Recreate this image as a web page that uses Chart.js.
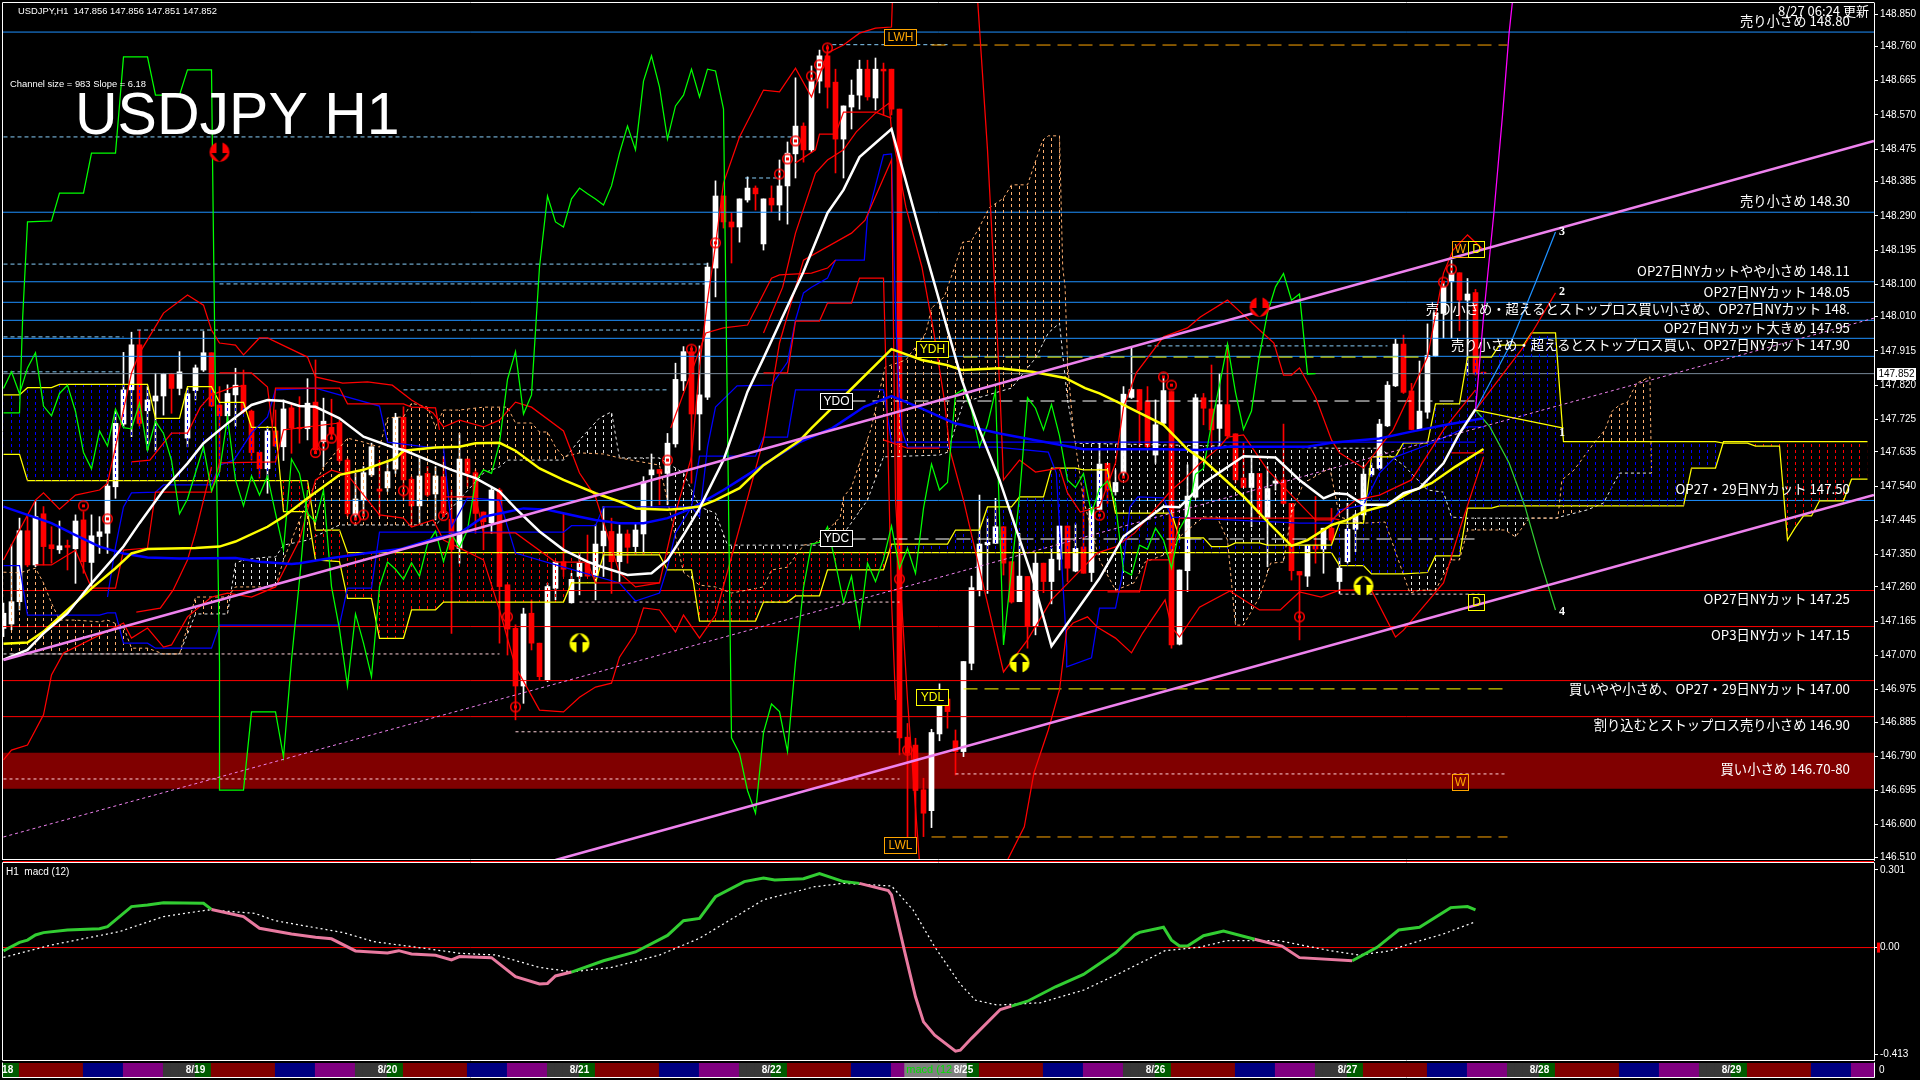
<!DOCTYPE html>
<html>
<head>
<meta charset="utf-8">
<title>USDJPY H1</title>
<script src="https://cdn.jsdelivr.net/npm/chart.js@4"></script>
<style>
  html, body { margin: 0; background: #000; width: 1920px; height: 1080px; overflow: hidden; }
  canvas { position: absolute; left: 0; }
</style>
</head>
<body>
<canvas id="mainChart" width="1920" height="862" style="top:0"></canvas>
<canvas id="macdChart" width="1920" height="200" style="top:862px"></canvas>
<canvas id="stripChart" width="1920" height="16" style="top:1062px"></canvas>
<script>
// candles, one row per 10 bars
const opens = [
147.145,147.157,147.219,147.416,147.321,147.463,147.377,147.363,147.375,147.366,
147.446,147.328,147.400,147.409,147.538,147.712,147.807,147.932,147.749,147.776,
147.790,147.851,147.811,147.673,147.805,147.862,147.910,147.765,147.735,147.793,
147.820,147.748,147.634,147.588,147.693,147.649,147.757,147.703,147.699,147.773,
147.663,147.703,147.716,147.612,147.460,147.500,147.571,147.532,147.535,147.587,
147.731,147.559,147.485,147.575,147.518,147.566,147.448,147.367,147.615,147.577,
147.468,147.438,147.529,147.266,147.145,146.985,147.187,147.104,147.002,147.256,
147.330,147.216,147.289,147.326,147.290,147.374,147.414,147.330,147.407,147.372,
147.407,147.571,147.586,147.575,147.657,147.832,147.913,147.740,147.787,148.145,
148.345,148.273,148.259,148.334,148.367,148.212,148.339,148.320,148.373,148.462,
148.539,148.473,148.664,148.734,148.661,148.503,148.592,148.625,148.697,148.617,
148.697,148.697,148.586,146.843,146.821,146.697,146.639,146.852,146.949,146.833,
146.803,147.048,147.250,147.377,147.381,147.427,147.330,147.219,147.289,147.150,
147.326,147.275,147.337,147.429,147.304,147.371,147.300,147.475,147.603,147.524,
147.577,147.786,147.808,147.774,147.626,147.714,147.802,147.101,147.305,147.509,
147.785,147.754,147.700,147.766,147.685,147.562,147.536,147.575,147.451,147.548,
147.557,147.492,147.303,147.290,147.374,147.365,147.423,147.275,147.330,147.420,
147.460,147.571,147.589,147.707,147.818,147.934,147.804,147.698,147.745,147.901,
148.019,148.107,148.132,148.056,148.077,147.856];
const highs = [
147.215,147.377,147.451,147.455,147.497,147.483,147.427,147.443,147.390,147.460,
147.469,147.460,147.455,147.557,147.747,147.911,147.967,147.973,147.816,147.853,
147.853,147.853,147.913,147.811,147.876,147.969,147.910,147.816,147.821,147.867,
147.862,147.751,147.634,147.705,147.751,147.779,147.770,147.788,147.838,147.890,
147.784,147.781,147.723,147.617,147.575,147.594,147.659,147.612,147.612,147.742,
147.760,147.566,147.622,147.594,147.594,147.622,147.529,147.686,147.615,147.585,
147.468,147.534,147.534,147.266,147.155,147.201,147.224,147.104,147.270,147.330,
147.464,147.298,147.353,147.404,147.432,147.483,147.451,147.432,147.418,147.437,
147.566,147.629,147.586,147.686,147.881,147.927,147.929,147.929,148.159,148.387,
148.345,148.298,148.337,148.398,148.373,148.337,148.373,148.445,148.495,148.673,
148.548,148.706,148.750,148.764,148.697,148.595,148.667,148.722,148.722,148.728,
148.714,148.697,148.586,146.881,146.840,146.729,146.865,146.991,146.949,146.863,
147.053,147.290,147.515,147.450,147.506,147.427,147.330,147.409,147.289,147.355,
147.326,147.367,147.429,147.429,147.435,147.538,147.483,147.659,147.603,147.585,
147.816,147.927,147.808,147.816,147.779,147.839,147.802,147.307,147.599,147.795,
147.797,147.876,147.853,147.931,147.685,147.659,147.622,147.575,147.594,147.566,
147.712,147.492,147.303,147.376,147.511,147.423,147.478,147.340,147.492,147.464,
147.598,147.603,147.725,147.830,147.947,147.959,147.825,147.887,147.990,148.021,
148.107,148.167,148.132,148.116,148.086,147.856];
const lows = [
147.122,147.141,147.196,147.316,147.316,147.321,147.326,147.353,147.307,147.270,
147.298,147.261,147.353,147.353,147.506,147.705,147.677,147.705,147.640,147.636,
147.737,147.742,147.793,147.649,147.779,147.858,147.760,147.580,147.723,147.705,
147.742,147.612,147.562,147.520,147.649,147.611,147.631,147.659,147.668,147.636,
147.594,147.673,147.603,147.455,147.446,147.455,147.566,147.455,147.525,147.575,
147.501,147.427,147.437,147.511,147.446,147.455,147.131,147.326,147.538,147.409,
147.363,147.409,147.104,147.071,146.891,146.937,147.085,147.002,146.997,147.224,
147.289,147.215,147.238,147.289,147.224,147.289,147.242,147.275,147.326,147.353,
147.353,147.483,147.488,147.488,147.648,147.805,147.548,147.640,147.780,148.065,
148.256,148.159,148.217,148.328,148.306,148.195,148.301,148.278,148.267,148.395,
148.439,148.467,148.631,148.589,148.409,148.395,148.531,148.586,148.611,148.584,
148.570,148.570,146.794,146.567,146.567,146.567,146.592,146.833,146.868,146.738,
146.789,147.030,147.235,147.242,147.381,147.293,147.215,147.219,147.090,147.127,
147.244,147.213,147.307,147.275,147.302,147.298,147.275,147.474,147.492,147.515,
147.566,147.783,147.649,147.640,147.603,147.710,147.090,147.099,147.247,147.506,
147.710,147.640,147.649,147.672,147.548,147.536,147.427,147.455,147.316,147.529,
147.488,147.279,147.113,147.261,147.326,147.298,147.381,147.242,147.326,147.358,
147.446,147.566,147.585,147.705,147.816,147.797,147.696,147.696,147.728,147.899,
147.950,147.950,147.971,147.848,147.848,147.851];
const closes = [
147.187,147.219,147.416,147.321,147.455,147.372,147.366,147.374,147.370,147.443,
147.330,147.402,147.413,147.540,147.714,147.807,147.932,147.714,147.779,147.790,
147.851,147.811,147.857,147.796,147.868,147.910,147.762,147.735,147.797,147.820,
147.747,147.633,147.588,147.693,147.651,147.754,147.702,147.699,147.770,147.640,
147.720,147.686,147.611,147.463,147.504,147.577,147.649,147.526,147.580,147.731,
147.557,147.485,147.568,147.515,147.568,147.464,147.364,147.615,147.575,147.464,
147.441,147.529,147.261,147.143,146.985,147.185,147.104,147.011,147.261,147.329,
147.309,147.281,147.327,147.290,147.379,147.415,147.330,147.407,147.370,147.418,
147.552,147.585,147.575,147.659,147.836,147.913,147.740,147.793,148.148,148.345,
148.273,148.259,148.337,148.367,148.351,148.337,148.320,148.373,148.464,148.539,
148.473,148.664,148.734,148.647,148.503,148.595,148.625,148.697,148.620,148.697,
148.692,148.586,146.841,146.798,146.695,146.632,146.856,146.935,146.914,146.803,
147.053,147.258,147.379,147.384,147.427,147.326,147.218,147.290,147.150,147.326,
147.275,147.337,147.429,147.312,147.367,147.298,147.478,147.601,147.529,147.550,
147.795,147.808,147.751,147.649,147.710,147.805,147.099,147.307,147.512,147.785,
147.756,147.696,147.766,147.679,147.557,147.536,147.575,147.464,147.533,147.554,
147.492,147.305,147.293,147.376,147.365,147.423,147.390,147.312,147.420,147.460,
147.573,147.589,147.712,147.820,147.934,147.800,147.697,147.748,147.903,148.021,
148.093,148.130,148.056,148.073,147.851,147.852];

// lagging line, starts at bar 0
const lagging = [
147.811,147.857,147.796,147.868,147.910,147.762,147.735,147.797,147.820,
147.747,147.633,147.588,147.693,147.651,147.754,147.702,147.699,147.770,147.640,
147.720,147.686,147.611,147.463,147.504,147.577,147.649,147.526,147.580,147.731,
147.557,147.485,147.568,147.515,147.568,147.464,147.364,147.615,147.575,147.464,
147.441,147.529,147.261,147.143,146.985,147.185,147.104,147.011,147.261,147.329,
147.309,147.281,147.327,147.290,147.379,147.415,147.330,147.407,147.370,147.418,
147.552,147.585,147.575,147.659,147.836,147.913,147.740,147.793,148.148,148.345,
148.273,148.259,148.337,148.367,148.351,148.337,148.320,148.373,148.464,148.539,
148.473,148.664,148.734,148.647,148.503,148.595,148.625,148.697,148.620,148.697,
148.692,148.586,146.841,146.798,146.695,146.632,146.856,146.935,146.914,146.803,
147.053,147.258,147.379,147.384,147.427,147.326,147.218,147.290,147.150,147.326,
147.275,147.337,147.429,147.312,147.367,147.298,147.478,147.601,147.529,147.550,
147.795,147.808,147.751,147.649,147.710,147.805,147.099,147.307,147.512,147.785,
147.756,147.696,147.766,147.679,147.557,147.536,147.575,147.464,147.533,147.554,
147.492,147.305,147.293,147.376,147.365,147.423,147.390,147.312,147.420,147.460,
147.573,147.589,147.712,147.820,147.934,147.800,147.697,147.748,147.903,148.021,
148.093,148.130,148.056,148.073,147.851,147.852];
const h4LagBars = [0,2,2.4,3,6,7,10,11,14,15,18,19,22,23,26,26.2,26.5,27,27,30,31,34,35,36,37,38];
const h4LagPrices = [147.743,147.743,148.009,148.273,148.276,148.353,148.353,148.464,148.464,148.731,148.731,148.625,148.625,148.695,148.695,148.314,147.779,147.049,146.696,146.696,146.913,146.913,146.788,147.057,147.279,147.529];

// moving averages
const whiteMaBars = [0,3,5,8,11,15,17,20,23,25,28,31,33,35,37,39,42,45,49,50,56,59,62,64,67,70,73,75,78,81,83,85,87,90,93,95,97.2,100,103,105,107,109,111,115.3,119.8,122,124.5,128.6,131,135.7,137,140,145,147,150,155,159,162,165,166.5,168,170,173,175,177,180,182,184];
const whiteMaPrices = [147.058,147.085,147.131,147.187,147.270,147.372,147.437,147.529,147.603,147.659,147.714,147.765,147.779,147.776,147.762,147.760,147.728,147.677,147.645,147.640,147.585,147.562,147.525,147.478,147.414,147.363,147.330,147.314,147.293,147.298,147.335,147.404,147.478,147.612,147.802,147.895,148.001,148.135,148.298,148.362,148.453,148.492,148.531,148.185,147.834,147.696,147.557,147.288,147.096,147.243,147.284,147.400,147.483,147.481,147.548,147.623,147.619,147.557,147.506,147.520,147.517,147.488,147.488,147.520,147.534,147.603,147.686,147.753];
const yellowMaBars = [0,3,5,8,11,14,16,18,24,27,29,33,35,38,42,45,49,50,54,57,59,62,64,67,70,74,77,79,83,85,87,89,92,95,99.6,101,105.6,111,114.8,117.9,119.8,124.5,128.6,132.7,135.2,137,140,145,148,150,155,158,161,163,166,168,170,173,176,178.5,181.5,185];
const yellowMaPrices = [147.102,147.106,147.136,147.196,147.256,147.312,147.353,147.365,147.368,147.372,147.386,147.427,147.455,147.506,147.571,147.585,147.617,147.638,147.647,147.649,147.659,147.660,147.638,147.589,147.557,147.520,147.497,147.478,147.474,147.478,147.483,147.501,147.534,147.598,147.668,147.701,147.801,147.920,147.890,147.876,147.862,147.867,147.857,147.840,147.812,147.797,147.765,147.710,147.642,147.612,147.511,147.441,147.374,147.390,147.432,147.446,147.469,147.488,147.525,147.548,147.594,147.643];
const blueMaBars = [0,3,6,9,12,15,18,22,29,32,36,37,40,45,49.6,54,57,60,62,65,68,72,74,77,80,83,86,90,93,99.6,103.6,107.6,111,114.3,118.8,124.5,130,135,145,149.6,153,163,166,172,176,180,185];
const blueMaPrices = [147.483,147.460,147.437,147.404,147.372,147.353,147.342,147.339,147.340,147.330,147.324,147.326,147.337,147.353,147.365,147.395,147.409,147.455,147.464,147.478,147.474,147.455,147.446,147.437,147.437,147.451,147.478,147.529,147.571,147.663,147.701,147.760,147.790,147.760,147.715,147.686,147.663,147.642,147.642,147.640,147.649,147.649,147.660,147.672,147.691,147.709,147.728];

// bands
const upperBandBars = [0,4,5,7,9,12,13,14,16,17,20,23,25,26,27,29,30,32,33,38,39,42.4,45.5,48.6,51,53.7,55,57,60,62,64,66,70,72,74,77,79,82,84,86,87,88,89,90,92,95,97,99,101,103,105,107,109,111,111.2,121.6,123,124.2,124.6,125,127,129,132,133,134.6,137,139,140,141.6,145,148,149.6,153,155,157,158.8,160,161,162,164,166,167,170,172,173.7,178,180,181.2,183,185];
const upperBandPrices = [147.335,147.501,147.521,147.476,147.515,147.529,147.548,147.648,147.854,147.909,148.020,148.070,148.042,147.973,147.937,147.931,147.904,147.951,147.951,147.898,147.843,147.826,147.829,147.820,147.779,147.743,147.704,147.723,147.704,147.723,147.773,147.759,147.693,147.576,147.510,147.299,147.260,147.271,147.465,147.621,147.870,148.056,148.209,148.381,148.509,148.639,148.634,148.700,148.620,148.742,148.764,148.797,148.811,148.814,148.945,148.945,148.473,147.965,147.779,147.557,147.612,147.579,147.590,147.521,147.468,147.482,147.604,147.759,147.854,147.954,147.979,148.009,148.056,148.015,147.973,147.937,147.848,147.848,147.868,147.787,147.668,147.632,147.590,147.648,147.696,147.898,148.131,148.195,148.237,148.195];
const lowerBandBars = [0,1,3,5,6,7.5,9,15,16,18,20,21,23,26,28,31,34,37,39,41,43,47,50,51,53.7,55,60,62,64,67,70,72,74,76,77,79,80,82,84,85,87,89,91,95,97,100,106,107.7,111,111.5,113,114.5,118,122,125.5,127.6,128.8,130.6,132,132.9,133.7,135.5,136.7,139,141,142.4,145.2,146,147,149.5,153.3,157,159.6,162,164.7,167,171,174,175,180,182,185];
const lowerBandPrices = [146.780,146.807,146.821,146.905,147.016,147.077,147.093,147.160,147.118,147.146,147.093,147.099,147.177,147.232,147.243,147.232,147.260,147.390,147.557,147.584,147.571,147.460,147.451,147.426,147.446,147.390,147.335,147.196,147.038,146.918,146.913,146.954,146.982,146.993,147.065,147.132,147.202,147.196,147.135,147.182,147.118,147.182,147.343,147.668,147.937,148.167,148.242,148.278,148.445,147.501,146.946,146.497,146.114,146.114,146.502,146.594,146.744,146.863,146.974,147.140,147.160,147.177,147.149,147.118,147.077,147.132,147.224,147.149,147.121,147.204,147.249,147.196,147.196,147.246,147.232,147.251,147.251,147.121,147.140,147.271,147.418,147.621];
const midRedBars = [95,97.4,99,101.5,103,105,106.6,109,110.7,111,112.8,114.8,116.3,117.6,118.3,120,125,128,131,135,136.7,139,141.4,146,147.5,149.6,152,153,155,158,161,164,166,169,172,176,180,184];
const midRedPrices = [147.965,148.092,148.242,148.409,148.445,148.473,148.523,148.575,148.603,148.528,148.314,148.148,147.965,147.779,147.640,147.501,147.024,147.113,147.224,147.315,147.354,147.371,147.410,147.529,147.557,147.604,147.648,147.676,147.682,147.585,147.515,147.446,147.446,147.501,147.515,147.557,147.696,147.807];
const earlyRedBars = [16.6,19.6,21.2,23,24,25.4,26];
const earlyRedPrices = [147.190,147.201,147.251,147.335,147.410,147.537,147.593];
const earlyRed2Bars = [16,18.3,21,23,24.6,26,28.8,30];
const earlyRed2Prices = [147.607,147.612,147.687,147.687,147.759,147.793,147.815,147.818];

// thin stepped lines
const redStepA = { bars: [4,6,9,11,14,15,18,19,26,27,34,35,42], prices: [147.321,147.321,147.362,147.257,147.257,147.362,147.368,147.523,147.523,147.604,147.607,147.696,147.715] };
const redStepB = { bars: [27,31,33,33.6,34,42,43,50,51,54,54.5], prices: [147.854,147.854,147.815,147.704,147.812,147.812,147.768,147.768,147.759,147.757,147.696] };
const redStepC = { bars: [95,98,99,102,103,106,107,110,110.5,111,111.5], prices: [147.854,147.854,147.998,147.998,148.048,148.048,148.117,148.117,147.701,147.224,146.946] };
const redStepD = { bars: [83.4,87.8,90,93,96,97,101,103,104], prices: [147.701,147.965,147.979,147.987,148.117,148.126,148.131,148.145,148.167] };
const redStepE = { bars: [99,101.5,102,104,105,109,111], prices: [148.437,148.473,148.517,148.517,148.578,148.578,148.561] };
const redStepF = { bars: [138,142,143,146,147,166,167], prices: [147.246,147.246,147.335,147.335,147.451,147.451,147.446] };
const redStepG = { bars: [55,59,60,64,69,73,74,82], prices: [147.510,147.510,147.410,147.410,147.329,147.329,147.271,147.271] };
const redStepH = { bars: [110,113,117], prices: [147.668,147.645,147.645] };
const redStepI = { bars: [181,185], prices: [147.632,147.632] };
const blueStepA = {
  bars: [0,2,3,12,13,14,15,18,19,26,27,42,43,46,47,70,71,74,75,86,87,94,95,98,99,110,111,184],
  prices: [147.319,147.319,147.182,147.182,147.188,147.188,147.104,147.104,147.090,147.090,147.154,147.154,147.257,147.257,147.412,147.412,147.430,147.430,147.482,147.482,147.623,147.623,147.676,147.676,147.807,147.807,147.662,147.662]
};
const blueStepB = {
  bars: [13,14,15,16,19,20,26,27,28.8,31,33,34,39,47,48,53,55,55.3,56,58,62,64,70,77,79,82,83,84,86,87,88,89,91.7,96,98,99,100,101,103,104,107.6,108,109.5,110,111,111.3,111.6,112,112.2,113,124.2,130.6,131.6,132.9,132.9,136,137,139,139.8,140.8,141.8,145,146,162,166,167,170,172,174,178,183,185],
  prices: [147.232,147.371,147.482,147.521,147.523,147.543,147.543,147.598,147.612,147.687,147.732,147.807,147.812,147.762,147.662,147.648,147.648,147.576,147.426,147.507,147.501,147.354,147.315,147.271,147.221,147.243,147.315,147.410,147.482,147.454,147.648,147.759,147.818,147.820,147.884,148.001,148.076,148.092,148.117,148.167,148.167,148.287,148.417,148.459,148.462,148.187,147.965,147.779,147.701,147.648,147.648,147.634,147.576,147.093,147.038,147.063,147.201,147.201,147.288,147.482,147.510,147.507,147.454,147.437,147.437,147.474,147.487,147.576,147.621,147.654,147.704,147.704]
};

// slow cloud (H4), edges A and B
const slowABars = [0,2,3,6,7,18,19,22,23,26,27,30,31,34,35,38,39,42,43,46,47,50,51,54,55,70,71,74,75,82,83,86,87,94,95,98,99,102,103,110,111,118,119,122,123,126,127,130,131,134,135,138,139,146,147,150,151,153,154,157,158,166,167,170,171,174,175,178,179,182,183,186,187,190,191,194,195,214,215,218,219,222,223,224,225,226,227,230,231,233];
const slowAPrices = [147.793,147.793,147.813,147.813,147.822,147.822,147.728,147.728,147.816,147.816,147.772,147.772,147.703,147.703,147.469,147.469,147.335,147.330,147.228,147.228,147.117,147.117,147.196,147.196,147.218,147.218,147.271,147.271,147.349,147.349,147.307,147.307,147.165,147.165,147.218,147.218,147.235,147.235,147.307,147.307,147.379,147.379,147.418,147.418,147.482,147.482,147.510,147.510,147.590,147.590,147.585,147.585,147.465,147.465,147.396,147.396,147.372,147.372,147.382,147.382,147.376,147.376,147.437,147.437,147.621,147.621,147.660,147.660,147.768,147.768,147.898,147.898,147.931,147.931,147.965,147.965,147.663,147.663,147.659,147.659,147.651,147.651,147.390,147.426,147.457,147.457,147.499,147.499,147.559,147.559];
const slowBBars = [0,2,3,38,39,42,43,166,167,170,171,175,178,179,182,183,186,187,210,211,214,215,233];
const slowBPrices = [147.628,147.628,147.555,147.555,147.418,147.418,147.355,147.355,147.319,147.319,147.296,147.296,147.300,147.346,147.346,147.479,147.479,147.485,147.485,147.590,147.590,147.663,147.663];

// fast cloud (H1), edges A and B
const fastABars = [0,2,4,5,6,7,9,12,13,15,16,18,20,22,23,24,28,29,34,35,36,38,40,43,45,47,48,50,51,53,54,55,57,60,63,64,66,67,68,69,70,72,75,77,82,85,87,89,91,95,96,98,100,101.5,104.6,105,106,108.4,110.2,112.8,115.3,116,117.6,118.9,119.9,121,122,123.2,125,126,128,129.9,130.6,132,132.4,132.7,133,133.7,135,137,139,141.3,142.7,146,147,150,151.7,153,154,155,157,158.4,160,161,162.5,165.8,167,170,172.7,175.8,177,179,181,182,183,187.7,189,190.7,194.3,194.8,196.3,198.9,200.2,201,202,203,203.5,204.2,205.8,206];
const fastAPrices = [147.301,147.299,147.312,147.271,147.215,147.168,147.168,147.163,147.168,147.149,147.090,147.090,147.074,147.074,147.149,147.232,147.232,147.260,147.260,147.335,147.390,147.501,147.593,147.673,147.662,147.648,147.729,147.732,147.770,147.759,147.704,147.751,147.751,147.759,147.759,147.715,147.715,147.690,147.690,147.648,147.621,147.632,147.629,147.618,147.598,147.301,147.265,147.260,147.243,147.260,147.307,147.315,147.376,147.382,147.454,147.510,147.537,147.696,147.870,147.890,147.965,148.034,148.065,148.148,148.217,148.220,148.259,148.312,148.339,148.376,148.376,148.500,148.512,148.512,148.148,148.092,147.884,147.701,147.501,147.335,147.251,147.271,147.329,147.357,147.399,147.454,147.454,147.390,147.154,147.154,147.232,147.326,147.329,147.465,147.548,147.590,147.454,147.437,147.440,147.243,147.251,147.251,147.335,147.335,147.418,147.418,147.399,147.451,147.451,147.557,147.584,147.662,147.696,147.746,147.765,147.773,147.798,147.826,147.843,147.576];
const fastBBars = [0,22,24,28,29,30,33,34,35,38,42,50,54,55,60,62,63,70,72,74.5,76,77,82,85,87,89,90.5,101,104,108,110,117,118,120,126,129,130.6,132,133,134,166,172,175,178,180,181,183,190,194,198,200,202,206];
const fastBPrices = [147.074,147.074,147.185,147.185,147.326,147.335,147.343,147.343,147.376,147.390,147.432,147.432,147.432,147.454,147.576,147.593,147.612,147.612,147.668,147.729,147.746,147.618,147.618,147.576,147.482,147.465,147.376,147.376,147.376,147.501,147.621,147.626,147.634,147.773,147.812,147.895,147.965,147.992,147.779,147.659,147.645,147.645,147.598,147.529,147.523,147.454,147.451,147.451,147.451,147.474,147.493,147.576,147.576];

// projection fan from bar 184
const fanMagentaBars = [184,185,186.3,187.4,188.2,188.6];
const fanMagentaPrices = [147.751,148.009,148.298,148.575,148.797,148.881];
const fanBlueBars = [184,188.2,191.5,194];
const fanBluePrices = [147.751,147.926,148.104,148.245];
const fanRedBars = [184,190,194];
const fanRedPrices = [147.751,147.926,148.076];
const fanYellowBars = [184,195];
const fanYellowPrices = [147.751,147.701];
const fanGreenBars = [184,185.8,188.2,190.2,192.2,194];
const fanGreenPrices = [147.751,147.704,147.604,147.482,147.326,147.196];
const waveLabels = ['1','2','3','4'];
const waveBars = [194.8,194.8,194.8,194.8];
const wavePrices = [147.687,148.079,148.245,147.190];

// channel
const channelUpperBars = [0,233.8];
const channelUpperPrices = [147.057,148.498];
const channelLowerBars = [69,233.8];
const channelLowerPrices = [146.502,147.515];
const channelMidBars = [0,233.8];
const channelMidPrices = [146.566,148.006];

// price levels
const blueLevels = [148.80,148.30,148.107,148.05,148.00,147.95,147.90,147.50];
const redLevels = [147.25,147.15,147.00,146.90];
const lastPrice = 147.852;
const zoneTop = 146.80;
const zoneBottom = 146.70;

// dashed level segments: price, from bar, to bar
const paleBlueSegments = [[148.509,0,99],[148.156,0,88],[148.101,27,87.7],[147.973,16.7,87],[147.954,0,15],[147.857,0,15],[147.807,50,83],[148.395,92.7,97],[148.765,103.6,118],[147.929,143,173]];
const palePinkSegments = [[147.074,1,62],[146.727,0,112],[147.218,72,112],[146.858,64,112],[146.741,119,188],[147.240,167,184.5]];
const whiteSegments = [[147.776,106,184.5],[147.393,106,184.5]];
const yellowSegments = [[147.898,120,177],[146.977,120,188]];
const orangeSegments = [[148.764,116,188],[146.566,116,188]];

// text on the chart
const noteTexts = ['売り小さめ 148.80','売り小さめ 148.30','OP27日NYカットやや小さめ 148.11','OP27日NYカット 148.05','売り小さめ・超えるとストップロス買い小さめ、OP27日NYカット 148.','OP27日NYカット大きめ 147.95','売り小さめ・超えるとストップロス買い、OP27日NYカット 147.90','OP27・29日NYカット 147.50','OP27日NYカット 147.25','OP3日NYカット 147.15','買いやや小さめ、OP27・29日NYカット 147.00','割り込むとストップロス売り小さめ 146.90','買い小さめ 146.70-80'];
const notePrices = [148.831,148.331,148.137,148.079,148.031,147.979,147.931,147.532,147.226,147.127,146.977,146.877,146.755];
const tagTexts = ['LWH','YDH','YDO','YDC','YDL','LWL','W','D','D','W'];
const tagBars = [112,116,104,104,116,112,182,184,184,182];
const tagPrices = [148.809,147.943,147.798,147.418,146.977,146.566,148.220,148.220,147.240,146.741];
const tagColors = ['orange','yellow','white','white','yellow','orange','orange','yellow','yellow','orange'];

// markers
const ringBars = [10,13,39,40,41,44,45,50,55,63,64,83,86,89,97,98,99,101,102,103,113,112,137,140,145,146,180,181,162];
const ringPrices = [147.485,147.449,147.633,147.654,147.673,147.449,147.460,147.527,147.458,147.177,146.927,147.612,147.920,148.215,148.406,148.448,148.498,148.678,148.709,148.756,146.807,147.282,147.459,147.565,147.843,147.820,148.106,148.142,147.177];
const sellArrowBars = [27,157];
const sellArrowPrices = [148.467,148.037];
const buyArrowBars = [72,127,170];
const buyArrowPrices = [147.104,147.049,147.263];

// axes
const priceTicks = [148.850,148.760,148.665,148.570,148.475,148.385,148.290,148.195,148.100,148.010,147.915,147.820,147.725,147.635,147.540,147.445,147.350,147.260,147.165,147.070,146.975,146.885,146.790,146.695,146.600,146.510];
const macdTicks = [0.301,0,-0.413];
const macdTickLabels = ['0.301','0.00','-0.413'];

// macd panel
const macdBars = [0,1,2,3,4,5,8,12,13,16,18,20,25,26,30,32,36,39,41,44,48,49.4,51,54,56,57,61,64,67,68,69,71,75,79,83,85,87,89,92.6,95,96.4,100,102,105,107,110.6,111,112.6,114,115,116.4,119,119.6,121,124.6,126,128,131.5,135,139,141.4,142,145,146,147,148,150,152.5,156.4,159.8,162,168.6,171.7,174.4,177,180.9,183,184];
const macdValues = [-0.013,0.004,0.020,0.029,0.049,0.058,0.068,0.073,0.081,0.159,0.165,0.174,0.172,0.148,0.120,0.075,0.053,0.040,0.034,-0.013,-0.021,-0.012,-0.025,-0.030,-0.048,-0.035,-0.039,-0.113,-0.141,-0.139,-0.110,-0.095,-0.051,-0.017,0.047,0.104,0.113,0.197,0.256,0.270,0.262,0.267,0.287,0.256,0.249,0.221,0.204,-0.010,-0.191,-0.288,-0.340,-0.402,-0.398,-0.352,-0.240,-0.227,-0.208,-0.152,-0.104,-0.020,0.049,0.059,0.079,0.029,0.006,0.006,0.046,0.064,0.032,0.006,-0.039,-0.051,0.001,0.068,0.079,0.155,0.159,0.146];
const signalBars = [0,2.7,6,14.5,20,25.6,31.4,34,42.5,46.3,51.7,57,61.6,67,71,76,82,87,95,101.4,105,111,113.7,116.4,119.6,121.5,124.2,129.6,135,139.5,145.2,149.5,152.9,159.4,165.5,169.4,173.2,175.5,180,183.8];
const signalValues = [-0.038,-0.016,0.010,0.062,0.120,0.146,0.133,0.104,0.058,0.023,0.001,-0.022,-0.029,-0.077,-0.094,-0.077,-0.029,0.036,0.185,0.236,0.249,0.239,0.146,0.003,-0.142,-0.204,-0.223,-0.214,-0.165,-0.100,-0.012,0.001,0.027,0.027,-0.010,-0.029,-0.013,0.012,0.053,0.098];

// session strip
const dayLabels = ['8/18','8/19','8/20','8/21','8/22','8/25','8/26','8/27','8/28','8/29'];
const dayStartBars = [0,24,48,72,96,120,144,168,192,216];
const sessionNames = ['open','open','europe','europe','europe','europe','europe','europe','europe','europe','london','london','london','london','london','ny','ny','ny','ny','ny','late','late','late','late'];
const sessionColors = { open: '#005c00', europe: '#800000', london: '#000080', ny: '#800080', late: '#383838' };

const FONT = '"Liberation Sans", Arial, sans-serif';
const JP = '"Noto Sans CJK JP", sans-serif';
const AREA_LEFT = 3;
const BAR_MIN = -0.0625;
const BAR_MAX = 233.8125;
const THIN = 1.25;

function pts(xs, ys) { return xs.map((x, i) => ({ x: x, y: ys[i] })); }

function dashTile(color) {
  const c = document.createElement('canvas');
  c.width = 8; c.height = 6;
  const g = c.getContext('2d');
  g.fillStyle = color;
  g.fillRect(3, 0, 1, 3);
  return document.createElement('canvas').getContext('2d').createPattern(c, 'repeat');
}

function ringMarker() {
  const c = document.createElement('canvas');
  c.width = c.height = 13;
  const g = c.getContext('2d');
  g.strokeStyle = '#f00'; g.lineWidth = 1.5;
  g.beginPath(); g.arc(6.5, 6.5, 4.8, 0, Math.PI * 2); g.stroke();
  g.fillStyle = '#f00';
  g.fillRect(5, 5, 3, 3);
  return c;
}

function arrowMarker(color, up) {
  const c = document.createElement('canvas');
  c.width = c.height = 22;
  const g = c.getContext('2d');
  if (!up) { g.translate(0, 22); g.scale(1, -1); }
  g.fillStyle = color;
  g.beginPath(); g.arc(11, 11, 10, 0, Math.PI * 2); g.fill();
  g.fillStyle = '#000';
  g.fillRect(8, 9, 6, 13);
  g.beginPath(); g.moveTo(11, 1); g.lineTo(3, 10); g.lineTo(19, 10); g.fill();
  return c;
}

// datasets are pushed bottom layer first
const ds = [];
function addLine(xs, ys, color, width, extra) {
  ds.push(Object.assign({
    type: 'line', data: pts(xs, ys), borderColor: color, borderWidth: width || THIN,
    pointRadius: 0, tension: 0, fill: false
  }, extra || {}));
  return ds.length - 1;
}
function addSegments(list, color, dash) {
  list.forEach(s => addLine([s[1], s[2]], [s[0], s[0]], color, 1, { borderDash: dash }));
}

// trade zone
const zoneBase = addLine([-1, 235], [zoneBottom, zoneBottom], 'transparent', 0.01);
addLine([-1, 235], [zoneTop, zoneTop], 'transparent', 0.01, { fill: { target: zoneBase, above: '#800000', below: '#800000' } });

// candles
const candleColor = closes.map((c, i) => c >= opens[i] ? '#ffffff' : '#ff0000');
ds.push({ type: 'bar', data: closes.map((c, i) => ({ x: i, y: [lows[i], highs[i]] })), backgroundColor: candleColor, barThickness: 1, grouped: false });
ds.push({ type: 'bar', data: closes.map((c, i) => ({ x: i, y: [opens[i], c] })), backgroundColor: candleColor, barThickness: 5, grouped: false });

// levels
blueLevels.forEach(p => addLine([-1, 235], [p, p], '#1e90ff', 1));
redLevels.forEach(p => addLine([-1, 235], [p, p], '#ff0000', 1));
addLine([-1, 235], [lastPrice, lastPrice], '#778899', 1);
addSegments(paleBlueSegments, '#87cefa', [4, 3]);
addSegments(palePinkSegments, '#ffd0d8', [3, 3]);
addSegments(whiteSegments, '#ffffff', [14, 7]);
addSegments(yellowSegments, '#ffff00', [14, 7]);
addSegments(orangeSegments, '#ffa500', [14, 7]);

// clouds
const fastB = addLine(fastBBars, fastBPrices, '#e8e8e8', 1, { borderDash: [3, 3] });
addLine(fastABars, fastAPrices, '#ffb070', 1, { borderDash: [3, 3], fill: { target: fastB, above: dashTile('#ffb070'), below: dashTile('#e8e8e8') } });
const slowB = addLine(slowBBars, slowBPrices, '#ffff00');
addLine(slowABars, slowAPrices, '#ffff00', THIN, { fill: { target: slowB, above: dashTile('#0000ff'), below: dashTile('#ff0000') } });

// steps and bands
[blueStepA, blueStepB].forEach(s => addLine(s.bars, s.prices, '#0000ff'));
[redStepA, redStepB, redStepC, redStepD, redStepE, redStepF, redStepG, redStepH, redStepI].forEach(s => addLine(s.bars, s.prices, '#ff0000'));
addLine(upperBandBars, upperBandPrices, '#ff0000');
addLine(lowerBandBars, lowerBandPrices, '#ff0000');
addLine(midRedBars, midRedPrices, '#ff0000');
addLine(earlyRedBars, earlyRedPrices, '#ff0000');
addLine(earlyRed2Bars, earlyRed2Prices, '#ff0000');

// lagging lines
addLine(h4LagBars, h4LagPrices, '#00ff00');
addLine(lagging.map((v, i) => i), lagging, '#00ff00');

// fan
addLine(fanGreenBars, fanGreenPrices, '#32cd32');
addLine(fanYellowBars, fanYellowPrices, '#ffff00');
addLine(fanRedBars, fanRedPrices, '#ff0000');
addLine(fanBlueBars, fanBluePrices, '#1e90ff');
addLine(fanMagentaBars, fanMagentaPrices, '#ff00ff');

// moving averages and channel
addLine(channelMidBars, channelMidPrices, '#ee82ee', 1, { borderDash: [3, 3] });
addLine(blueMaBars, blueMaPrices, '#0000ff', 2.5);
addLine(yellowMaBars, yellowMaPrices, '#ffff00', 2.5);
addLine(whiteMaBars, whiteMaPrices, '#ffffff', 2.5);
addLine(channelUpperBars, channelUpperPrices, '#ee82ee', 2.5);
addLine(channelLowerBars, channelLowerPrices, '#ee82ee', 2.5);

// markers
addLine(ringBars, ringPrices, 'transparent', 0.01, { showLine: false, pointStyle: ringMarker(), pointRadius: 6 });
addLine(sellArrowBars, sellArrowPrices, 'transparent', 0.01, { showLine: false, pointStyle: arrowMarker('#ff0000', false), pointRadius: 10 });
addLine(buyArrowBars, buyArrowPrices, 'transparent', 0.01, { showLine: false, pointStyle: arrowMarker('#ffff00', true), pointRadius: 10 });

ds.forEach((d, i) => { d.order = ds.length - i; });

const mainOverlay = {
  id: 'mainOverlay',
  afterDatasetsDraw(chart) {
    const g = chart.ctx, x = chart.scales.x, y = chart.scales.y, a = chart.chartArea;
    g.save();
    g.textBaseline = 'middle';

    // wave numbers
    g.fillStyle = '#fff'; g.font = 'bold 12px "Liberation Serif", serif'; g.textAlign = 'left';
    waveLabels.forEach((t, i) => g.fillText(t, x.getPixelForValue(waveBars[i]) - 3, y.getPixelForValue(wavePrices[i])));

    // level tags
    g.font = '12px ' + FONT; g.textAlign = 'center'; g.lineWidth = 1;
    tagTexts.forEach((t, i) => {
      const w = t.length > 1 ? 32 : 16, cx = x.getPixelForValue(tagBars[i]), top = y.getPixelForValue(tagPrices[i]);
      const left = Math.round(cx - w / 2);
      g.fillStyle = t.length > 1 ? '#000' : 'rgba(0,0,0,0)';
      g.fillRect(left, Math.round(top), w, 16);
      g.strokeStyle = tagColors[i]; g.strokeRect(left + 0.5, Math.round(top) + 0.5, w, 16);
      g.fillStyle = tagColors[i]; g.fillText(t, left + w / 2 + 0.5, top + 9);
    });

    // right side notes
    g.fillStyle = '#fff'; g.font = '13.3px ' + JP; g.textAlign = 'right';
    noteTexts.forEach((t, i) => g.fillText(t, 1850, y.getPixelForValue(notePrices[i])));

    // titles
    g.textAlign = 'left';
    g.font = '59px ' + FONT; g.fillText('USDJPY H1', 75, 118);
    g.font = '9.4px ' + FONT;
    g.fillText('USDJPY,H1  147.856 147.856 147.851 147.852', 18, 11);
    g.fillText('Channel size = 983 Slope = 6.18', 10, 84);
    g.textAlign = 'right';
    g.font = '13px ' + JP; g.fillText('8/27 06:24 更新', 1869, 11);

    // last price box
    const ly = y.getPixelForValue(lastPrice);
    g.fillStyle = '#fff'; g.fillRect(1877, Math.round(ly) - 6, 39, 12);
    g.fillStyle = '#000'; g.font = '10px ' + FONT; g.textAlign = 'center';
    g.fillText('147.852', 1896.5, ly + 0.5);

    // frame
    g.strokeStyle = '#fff'; g.lineWidth = 1;
    g.beginPath();
    g.moveTo(a.left - 0.5, 860); g.lineTo(a.left - 0.5, 2.5); g.lineTo(a.right + 0.5, 2.5);
    g.moveTo(a.left - 0.5, 859.5); g.lineTo(a.right + 0.5, 859.5);
    g.stroke();
    g.strokeStyle = '#f00';
    g.beginPath(); g.moveTo(a.left, 861.5); g.lineTo(a.right, 861.5); g.stroke();
    g.restore();
  }
};

const barScale = { type: 'linear', min: BAR_MIN, max: BAR_MAX, display: false, offset: false };

// fixed axis width, and no room reserved for the end labels
function fitAxis(s) {
  s.width = 46;
  s.paddingTop = 0;
  s.paddingBottom = 0;
}

new Chart(document.getElementById('mainChart'), {
  type: 'bar',
  data: { datasets: ds },
  plugins: [mainOverlay],
  options: {
    responsive: false, animation: false, events: [], devicePixelRatio: 1,
    layout: { autoPadding: false, padding: { left: AREA_LEFT, top: 3, bottom: 2, right: 0 } },
    plugins: { legend: { display: false }, tooltip: { enabled: false } },
    scales: {
      x: barScale,
      y: {
        position: 'right', min: 146.5021, max: 148.8807,
        afterBuildTicks: s => { s.ticks = priceTicks.map(v => ({ value: v })); },
        afterFit: fitAxis,
        ticks: { color: '#fff', font: { family: FONT, size: 10 }, padding: 2, autoSkip: false, maxRotation: 0, callback: v => v.toFixed(3) },
        grid: { drawOnChartArea: false, color: '#fff', tickLength: 4 },
        border: { color: '#fff' }
      }
    }
  }
});

// macd colour follows its position against the signal line
function signalAt(x) {
  for (let i = 1; i < signalBars.length; i++) {
    if (x <= signalBars[i]) {
      const t = (x - signalBars[i - 1]) / (signalBars[i] - signalBars[i - 1]);
      return signalValues[i - 1] + t * (signalValues[i] - signalValues[i - 1]);
    }
  }
  return signalValues[signalValues.length - 1];
}

const macdOverlay = {
  id: 'macdOverlay',
  afterDatasetsDraw(chart) {
    const g = chart.ctx, a = chart.chartArea, y = chart.scales.y;
    g.save();
    g.fillStyle = '#fff'; g.font = '10px ' + FONT; g.textBaseline = 'middle';
    g.fillText('H1  macd (12)', 6, a.top + 9);
    g.fillStyle = '#f00'; g.fillRect(1877, y.getPixelForValue(0) - 5, 3, 10);
    g.strokeStyle = '#fff'; g.lineWidth = 1;
    g.beginPath();
    g.moveTo(a.left - 0.5, a.bottom + 0.5); g.lineTo(a.left - 0.5, a.top - 0.5); g.lineTo(a.right + 0.5, a.top - 0.5);
    g.moveTo(a.left - 0.5, a.bottom + 0.5); g.lineTo(a.right + 0.5, a.bottom + 0.5);
    g.stroke();
    g.restore();
  }
};

new Chart(document.getElementById('macdChart'), {
  type: 'line',
  data: {
    datasets: [
      {
        data: pts(macdBars, macdValues), borderWidth: 3, pointRadius: 0, tension: 0, borderColor: '#32cd32',
        segment: { borderColor: c => c.p1.parsed.y >= signalAt(c.p1.parsed.x) ? '#32cd32' : '#e87aa0' }
      },
      { data: pts(signalBars, signalValues), borderWidth: 1.25, pointRadius: 0, tension: 0, borderColor: '#fff', borderDash: [2, 3] },
      { data: pts([-1, 235], [0, 0]), borderWidth: 1, pointRadius: 0, borderColor: '#f00' }
    ]
  },
  plugins: [macdOverlay],
  options: {
    responsive: false, animation: false, events: [], devicePixelRatio: 1,
    layout: { autoPadding: false, padding: { left: AREA_LEFT, top: 1, bottom: 2, right: 0 } },
    plugins: { legend: { display: false }, tooltip: { enabled: false } },
    scales: {
      x: barScale,
      y: {
        position: 'right', min: -0.436, max: 0.328,
        afterBuildTicks: s => { s.ticks = macdTicks.map(v => ({ value: v })); },
        afterFit: fitAxis,
        ticks: { color: '#fff', font: { family: FONT, size: 10 }, padding: 2, autoSkip: false, maxRotation: 0, callback: v => macdTickLabels[macdTicks.indexOf(v)] },
        grid: { drawOnChartArea: false, color: '#fff', tickLength: 4 },
        border: { color: '#fff' }
      }
    }
  }
});

const stripBars = [];
for (let i = 0; i < 234; i++) stripBars.push(i);

const stripOverlay = {
  id: 'stripOverlay',
  afterDatasetsDraw(chart) {
    const g = chart.ctx, x = chart.scales.x, a = chart.chartArea;
    g.save();
    g.beginPath(); g.rect(a.left, 0, a.right - a.left, 16); g.clip();
    const bl = x.getPixelForValue(112.6), br = x.getPixelForValue(120.4);
    g.fillStyle = '#808080'; g.fillRect(bl, a.top, br - bl, a.bottom - a.top);
    g.fillStyle = '#00e000'; g.font = '11px ' + FONT; g.textBaseline = 'middle'; g.textAlign = 'left';
    g.fillText('macd (12', bl + 2, a.top + 7);
    g.fillStyle = '#fff'; g.font = 'bold 10px ' + FONT; g.textAlign = 'center';
    dayLabels.forEach((t, i) => g.fillText(t, x.getPixelForValue(dayStartBars[i]), a.top + 7));
    g.restore();
    g.save();
    g.fillStyle = '#fff'; g.font = '10px ' + FONT; g.textBaseline = 'middle'; g.textAlign = 'left';
    g.fillText('0', 1879, a.top + 7);
    g.strokeStyle = '#fff'; g.lineWidth = 1;
    g.beginPath();
    g.moveTo(a.left - 0.5, a.top - 0.5); g.lineTo(a.left - 0.5, a.bottom + 0.5); g.lineTo(a.right + 0.5, a.bottom + 0.5); g.lineTo(a.right + 0.5, a.top - 0.5);
    g.stroke();
    g.restore();
  }
};

new Chart(document.getElementById('stripChart'), {
  type: 'bar',
  data: {
    datasets: [{
      data: stripBars.map(i => ({ x: i + 0.47, y: 1 })),
      backgroundColor: stripBars.map(i => sessionColors[sessionNames[i % 24]]),
      barThickness: 8, grouped: false
    }]
  },
  plugins: [stripOverlay],
  options: {
    responsive: false, animation: false, events: [], devicePixelRatio: 1,
    layout: { autoPadding: false, padding: { left: AREA_LEFT, top: 1, bottom: 1, right: 46 } },
    plugins: { legend: { display: false }, tooltip: { enabled: false } },
    scales: {
      x: barScale,
      y: { min: 0, max: 1, display: false }
    }
  }
});
</script>
</body>
</html>
